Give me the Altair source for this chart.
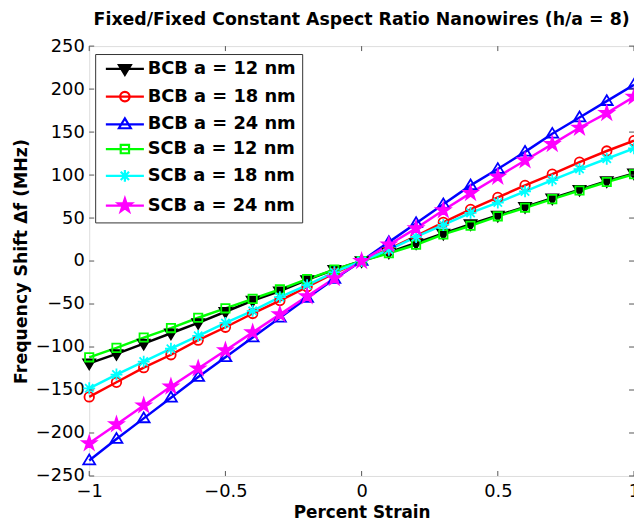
import math
import altair as alt
import pandas as pd

# ---------------- data ----------------
strain = [-1.0, -0.9, -0.8, -0.7, -0.6, -0.5, -0.4, -0.3, -0.2, -0.1, 0.0,
          0.1, 0.2, 0.3, 0.4, 0.5, 0.6, 0.7, 0.8, 0.9, 1.0]

series_names = ["BCB a = 12 nm", "BCB a = 18 nm", "BCB a = 24 nm",
                "SCB a = 12 nm", "SCB a = 18 nm", "SCB a = 24 nm"]

bcb12 = [-119, -108, -96, -84, -72, -59, -46, -35, -22, -10, 0,
         10, 21, 32, 43, 53, 63, 73, 83, 93, 102]
bcb18 = [-158, -141, -124, -109, -92, -77, -61, -46, -30, -14, 0,
         14, 29, 45, 60, 74, 88, 101, 115, 128, 140]
bcb24 = [-232, -207, -183, -159, -135, -112, -89, -66, -43, -21, 0,
         22, 44, 66, 88, 107, 127, 148, 167, 186, 205]
scb12 = [-112, -101, -89, -78, -66, -55, -44, -33, -21, -10, 0,
         9, 19, 31, 41, 52, 62, 72, 82, 92, 101]
scb18 = [-148, -132, -117, -102, -87, -72, -58, -42, -28, -13, 0,
         13, 28, 42, 56, 68, 81, 94, 107, 119, 131]
scb24 = [-212, -190, -168, -146, -125, -104, -83, -62, -41, -20, 0,
         19, 38, 59, 79, 98, 117, 136, 155, 172, 191]

x_ticks = [-1, -0.5, 0, 0.5, 1]
y_ticks = [-250, -200, -150, -100, -50, 0, 50, 100, 150, 200, 250]

colors = ["#000000", "#ff0000", "#0000ff", "#00ff00", "#00ffff", "#ff00ff"]
fills = ["#000000", "transparent", "transparent", "transparent", "transparent", "#ff00ff"]

# ---------------- marker shapes ----------------
def f(v):
    return f"{v:.3f}"

def tri_down(s=1.0):
    return f"M{f(-s)},{f(-0.65*s)}L{f(s)},{f(-0.65*s)}L0,{f(s)}Z"

def tri_up(s=1.0):
    return f"M{f(-s)},{f(0.65*s)}L{f(s)},{f(0.65*s)}L0,{f(-s)}Z"

def circle(s=0.8):
    return f"M{f(s)},0A{f(s)},{f(s)} 0 1,1 {f(-s)},0A{f(s)},{f(s)} 0 1,1 {f(s)},0Z"

def square(s=0.7):
    return f"M{f(-s)},{f(-s)}L{f(s)},{f(-s)}L{f(s)},{f(s)}L{f(-s)},{f(s)}Z"

def asterisk(s=1.0):
    d = 0.7 * s
    return (f"M0,{f(-s)}L0,{f(s)}M{f(-s)},0L{f(s)},0"
            f"M{f(-d)},{f(-d)}L{f(d)},{f(d)}M{f(-d)},{f(d)}L{f(d)},{f(-d)}")

def pentagram(R=1.2):
    r = R * 0.382
    pts = []
    for i in range(10):
        ang = -math.pi / 2 + i * math.pi / 5
        rad = R if i % 2 == 0 else r
        pts.append((rad * math.cos(ang), rad * math.sin(ang)))
    return "M" + "L".join(f"{f(px)},{f(py)}" for px, py in pts) + "Z"

marker_paths = [tri_down(), circle(), tri_up(), square(), asterisk(), pentagram()]
LINE = "M-3.2,0L3.2,0"
legend_paths = [LINE + p for p in marker_paths]

# ---------------- table ----------------
values = [bcb12, bcb18, bcb24, scb12, scb18, scb24]
rows = []
for name, vals in zip(series_names, values):
    for xv, yv in zip(strain, vals):
        rows.append({"strain": xv, "shift": yv, "series": name})
df = pd.DataFrame(rows)

# ---------------- layout ----------------
W, H = 550, 434
TICK = 5
FONT = "DejaVu Sans"
FRAME = "#555555"

xs = alt.Scale(domain=[-1, 1], nice=False, zero=False)
ys = alt.Scale(domain=[-250, 250], nice=False, zero=False)

x_axis = alt.Axis(values=x_ticks, format="~g", title="Percent Strain",
                  grid=False, ticks=False, tickSize=0, domain=False,
                  labelFlush=False, labelOverlap=False, labelPadding=7,
                  labelFont=FONT, labelFontSize=18, labelColor="black",
                  titleFont=FONT, titleFontSize=17, titleFontWeight="bold",
                  titleColor="black", titlePadding=4)
y_axis = alt.Axis(values=y_ticks, format="d", title="Frequency Shift Δf (MHz)",
                  grid=False, ticks=False, tickSize=0, domain=False,
                  labelFlush=False, labelOverlap=False, labelPadding=5,
                  labelFont=FONT, labelFontSize=18, labelColor="black",
                  titleFont=FONT, titleFontSize=17.5, titleFontWeight="bold",
                  titleColor="black", titlePadding=5)

base = alt.Chart(df)

lines = base.mark_line(strokeWidth=2.5).encode(
    x=alt.X("strain:Q", scale=xs, axis=x_axis),
    y=alt.Y("shift:Q", scale=ys, axis=y_axis),
    color=alt.Color("series:N", scale=alt.Scale(domain=series_names, range=colors),
                    legend=None),
)

points = base.mark_point(strokeWidth=1.8, opacity=1, fillOpacity=1, size=144).encode(
    x=alt.X("strain:Q", scale=xs),
    y=alt.Y("shift:Q", scale=ys),
    stroke=alt.Stroke("series:N", scale=alt.Scale(domain=series_names, range=colors),
                      legend=None),
    fill=alt.Fill("series:N", scale=alt.Scale(domain=series_names, range=fills),
                  legend=None),
    shape=alt.Shape("series:N", scale=alt.Scale(domain=series_names, range=marker_paths),
                    legend=None),
)

leg = alt.Legend(orient="none", legendX=6, legendY=8, title=None,
                 padding=6, rowPadding=7, symbolSize=144, symbolStrokeWidth=2.2,
                 symbolOffset=15, labelOffset=14, labelLimit=400,
                 labelExpr="datum.label + '\u00a0\u00a0'",
                 labelFont=FONT, labelFontSize=18, labelFontWeight="bold",
                 labelColor="black", strokeColor="#333333", fillColor="white",
                 symbolOpacity=1)

legend_layer = base.transform_filter("datum.strain > 5").mark_point(
    strokeWidth=2.2, opacity=1, fillOpacity=1, size=144).encode(
    x=alt.X("strain:Q", scale=xs),
    y=alt.Y("shift:Q", scale=ys),
    stroke=alt.Stroke("series:N", scale=alt.Scale(domain=series_names, range=colors),
                      legend=leg),
    fill=alt.Fill("series:N", scale=alt.Scale(domain=series_names, range=fills),
                  legend=leg),
    shape=alt.Shape("series:N", scale=alt.Scale(domain=series_names, range=legend_paths),
                    legend=leg),
)

ytick_df = pd.DataFrame({"v": y_ticks})
xtick_df = pd.DataFrame({"v": x_ticks})

tick_left = alt.Chart(ytick_df).mark_rule(color=FRAME, strokeWidth=1).encode(
    y=alt.Y("v:Q", scale=ys), x=alt.value(0), x2=alt.value(TICK))
tick_right = alt.Chart(ytick_df).mark_rule(color=FRAME, strokeWidth=1).encode(
    y=alt.Y("v:Q", scale=ys), x=alt.value(W - TICK), x2=alt.value(W))
tick_bottom = alt.Chart(xtick_df).mark_rule(color=FRAME, strokeWidth=1).encode(
    x=alt.X("v:Q", scale=xs), y=alt.value(H), y2=alt.value(H - TICK))
tick_top = alt.Chart(xtick_df).mark_rule(color=FRAME, strokeWidth=1).encode(
    x=alt.X("v:Q", scale=xs), y=alt.value(0), y2=alt.value(TICK))

chart = alt.layer(
    lines, points, legend_layer, tick_left, tick_right, tick_bottom, tick_top
).resolve_scale(
    shape="independent", fill="independent", stroke="independent", color="independent"
).properties(
    width=W, height=H,
    autosize=alt.AutoSizeParams(type="none"),
    padding={"left": 82, "top": 36, "right": 0, "bottom": 45},
    title=alt.TitleParams(
        "Fixed/Fixed Constant Aspect Ratio Nanowires (h/a = 8)",
        font=FONT, fontSize=17.5, fontWeight="bold", color="black",
        anchor="middle", offset=9),
).configure_view(
    stroke=FRAME, strokeWidth=1
).configure(background="white")

chart.save("out.html", embed_options={"renderer": "svg", "actions": False})
